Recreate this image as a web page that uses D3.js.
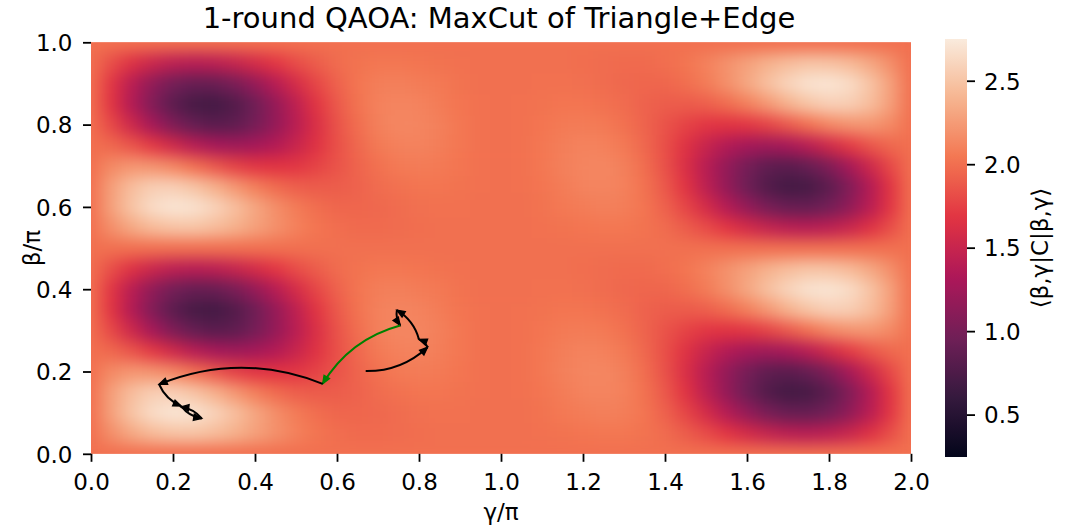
<!DOCTYPE html>
<html>
<head>
<meta charset="utf-8">
<script src="https://cdn.jsdelivr.net/npm/d3@7"></script>
<style>
  html,body{margin:0;padding:0;background:#ffffff;}
  svg text{font-family:"DejaVu Sans","Liberation Sans",sans-serif;fill:#000;}
</style>
</head>
<body>
<svg id="chart" width="1066" height="527"></svg>
<script>
// ---------------- data ----------------
const gammaValues = [0,0.05,0.1,0.15,0.2,0.25,0.3,0.35,0.4,0.45,0.5,0.55,0.6,0.65,0.7,0.75,0.8,0.85,0.9,0.95,1,
  1.05,1.1,1.15,1.2,1.25,1.3,1.35,1.4,1.45,1.5,1.55,1.6,1.65,1.7,1.75,1.8,1.85,1.9,1.95,2];
const betaValues = [0,0.05,0.1,0.15,0.2,0.25,0.3,0.35,0.4,0.45,0.5,0.55,0.6,0.65,0.7,0.75,0.8,0.85,0.9,0.95,1];

// rows: one per beta value (bottom to top), columns: gamma values (left to right)
const expectation = [
[2,2,2,2,2,2,2,2,2,2,2,2,2,2,2,2,2,2,2,2,2,2,2,2,2,2,2,2,2,2,2,2,2,2,2,2,2,2,2,2,2],
[2.00,2.18,2.33,2.44,2.49,2.50,2.45,2.38,2.28,2.19,2.10,2.03,1.99,1.97,1.97,1.98,1.99,2.00,2.00,2.00,2.00,2.00,2.01,2.02,2.03,2.04,2.04,2.02,1.98,1.90,1.81,1.69,1.58,1.48,1.41,1.39,1.42,1.51,1.65,1.82,2.00],
[2.00,2.28,2.50,2.65,2.71,2.69,2.60,2.47,2.32,2.18,2.07,1.99,1.95,1.95,1.96,1.98,2.00,2.01,2.01,2.00,2.00,2.00,2.02,2.05,2.07,2.09,2.08,2.03,1.93,1.78,1.59,1.38,1.18,1.01,0.91,0.90,0.98,1.15,1.40,1.69,2.00],
[2.00,2.27,2.46,2.56,2.57,2.50,2.38,2.23,2.09,1.98,1.91,1.89,1.90,1.93,1.98,2.01,2.03,2.03,2.02,2.01,2.00,2.01,2.03,2.07,2.11,2.12,2.10,2.02,1.88,1.68,1.43,1.18,0.95,0.78,0.69,0.71,0.84,1.06,1.36,1.68,2.00],
[2.00,2.15,2.22,2.20,2.13,2.01,1.88,1.76,1.69,1.67,1.69,1.76,1.85,1.94,2.01,2.06,2.07,2.06,2.03,2.01,2.00,2.01,2.04,2.09,2.12,2.13,2.09,1.99,1.84,1.63,1.40,1.17,0.99,0.86,0.83,0.90,1.05,1.28,1.53,1.79,2.00],
[2.00,1.96,1.86,1.71,1.55,1.40,1.29,1.24,1.27,1.36,1.50,1.66,1.83,1.96,2.06,2.10,2.11,2.08,2.04,2.01,2.00,2.01,2.04,2.08,2.11,2.10,2.06,1.96,1.83,1.66,1.50,1.36,1.27,1.24,1.29,1.40,1.55,1.71,1.86,1.96,2.00],
[2.00,1.79,1.53,1.28,1.05,0.90,0.83,0.86,0.99,1.17,1.40,1.63,1.84,1.99,2.09,2.13,2.12,2.09,2.04,2.01,2.00,2.01,2.03,2.06,2.07,2.06,2.01,1.94,1.85,1.76,1.69,1.67,1.69,1.76,1.88,2.01,2.13,2.20,2.22,2.15,2.00],
[2.00,1.68,1.36,1.06,0.84,0.71,0.69,0.78,0.95,1.18,1.43,1.68,1.88,2.02,2.10,2.12,2.11,2.07,2.03,2.01,2.00,2.01,2.02,2.03,2.03,2.01,1.98,1.93,1.90,1.89,1.91,1.98,2.09,2.23,2.38,2.50,2.57,2.56,2.46,2.27,2.00],
[2.00,1.69,1.40,1.15,0.98,0.90,0.91,1.01,1.18,1.38,1.59,1.78,1.93,2.03,2.08,2.09,2.07,2.05,2.02,2.00,2.00,2.00,2.01,2.01,2.00,1.98,1.96,1.95,1.95,1.99,2.07,2.18,2.32,2.47,2.60,2.69,2.71,2.65,2.50,2.28,2.00],
[2.00,1.82,1.65,1.51,1.42,1.39,1.41,1.48,1.58,1.69,1.81,1.90,1.98,2.02,2.04,2.04,2.03,2.02,2.01,2.00,2.00,2.00,2.00,2.00,1.99,1.98,1.97,1.97,1.99,2.03,2.10,2.19,2.28,2.38,2.45,2.50,2.49,2.44,2.33,2.18,2.00],
[2,2,2,2,2,2,2,2,2,2,2,2,2,2,2,2,2,2,2,2,2,2,2,2,2,2,2,2,2,2,2,2,2,2,2,2,2,2,2,2,2],
[2.00,2.18,2.33,2.44,2.49,2.50,2.45,2.38,2.28,2.19,2.10,2.03,1.99,1.97,1.97,1.98,1.99,2.00,2.00,2.00,2.00,2.00,2.01,2.02,2.03,2.04,2.04,2.02,1.98,1.90,1.81,1.69,1.58,1.48,1.41,1.39,1.42,1.51,1.65,1.82,2.00],
[2.00,2.28,2.50,2.65,2.71,2.69,2.60,2.47,2.32,2.18,2.07,1.99,1.95,1.95,1.96,1.98,2.00,2.01,2.01,2.00,2.00,2.00,2.02,2.05,2.07,2.09,2.08,2.03,1.93,1.78,1.59,1.38,1.18,1.01,0.91,0.90,0.98,1.15,1.40,1.69,2.00],
[2.00,2.27,2.46,2.56,2.57,2.50,2.38,2.23,2.09,1.98,1.91,1.89,1.90,1.93,1.98,2.01,2.03,2.03,2.02,2.01,2.00,2.01,2.03,2.07,2.11,2.12,2.10,2.02,1.88,1.68,1.43,1.18,0.95,0.78,0.69,0.71,0.84,1.06,1.36,1.68,2.00],
[2.00,2.15,2.22,2.20,2.13,2.01,1.88,1.76,1.69,1.67,1.69,1.76,1.85,1.94,2.01,2.06,2.07,2.06,2.03,2.01,2.00,2.01,2.04,2.09,2.12,2.13,2.09,1.99,1.84,1.63,1.40,1.17,0.99,0.86,0.83,0.90,1.05,1.28,1.53,1.79,2.00],
[2.00,1.96,1.86,1.71,1.55,1.40,1.29,1.24,1.27,1.36,1.50,1.66,1.83,1.96,2.06,2.10,2.11,2.08,2.04,2.01,2.00,2.01,2.04,2.08,2.11,2.10,2.06,1.96,1.83,1.66,1.50,1.36,1.27,1.24,1.29,1.40,1.55,1.71,1.86,1.96,2.00],
[2.00,1.79,1.53,1.28,1.05,0.90,0.83,0.86,0.99,1.17,1.40,1.63,1.84,1.99,2.09,2.13,2.12,2.09,2.04,2.01,2.00,2.01,2.03,2.06,2.07,2.06,2.01,1.94,1.85,1.76,1.69,1.67,1.69,1.76,1.88,2.01,2.13,2.20,2.22,2.15,2.00],
[2.00,1.68,1.36,1.06,0.84,0.71,0.69,0.78,0.95,1.18,1.43,1.68,1.88,2.02,2.10,2.12,2.11,2.07,2.03,2.01,2.00,2.01,2.02,2.03,2.03,2.01,1.98,1.93,1.90,1.89,1.91,1.98,2.09,2.23,2.38,2.50,2.57,2.56,2.46,2.27,2.00],
[2.00,1.69,1.40,1.15,0.98,0.90,0.91,1.01,1.18,1.38,1.59,1.78,1.93,2.03,2.08,2.09,2.07,2.05,2.02,2.00,2.00,2.00,2.01,2.01,2.00,1.98,1.96,1.95,1.95,1.99,2.07,2.18,2.32,2.47,2.60,2.69,2.71,2.65,2.50,2.28,2.00],
[2.00,1.82,1.65,1.51,1.42,1.39,1.41,1.48,1.58,1.69,1.81,1.90,1.98,2.02,2.04,2.04,2.03,2.02,2.01,2.00,2.00,2.00,2.00,2.00,1.99,1.98,1.97,1.97,1.99,2.03,2.10,2.19,2.28,2.38,2.45,2.50,2.49,2.44,2.33,2.18,2.00],
[2,2,2,2,2,2,2,2,2,2,2,2,2,2,2,2,2,2,2,2,2,2,2,2,2,2,2,2,2,2,2,2,2,2,2,2,2,2,2,2,2]
];

const xTickValues = [0,0.2,0.4,0.6,0.8,1.0,1.2,1.4,1.6,1.8,2.0];
const yTickValues = [0,0.2,0.4,0.6,0.8,1.0];
const colorbarTicks = [0.5,1.0,1.5,2.0,2.5];
const colorRange = [0.246, 2.75];
const rocketColors = ["#03051a","#35193e","#701f57","#ad1759","#e13342","#f37651","#f6b48f","#faebdd"];

// optimisation trajectory (gamma/pi, beta/pi)
const pathGamma = [0.670,0.821,0.800,0.746,0.754,0.565,0.166,0.220,0.270,0.219];
const pathBeta  = [0.201,0.259,0.278,0.349,0.312,0.170,0.169,0.116,0.086,0.114];
const stepColors = ["#000000","#000000","#000000","#000000","#008000","#000000","#000000","#000000","#000000"];

const titleText = "1-round QAOA: MaxCut of Triangle+Edge";
const xLabelText = "γ/π";
const yLabelText = "β/π";
const cbarLabelText = "⟨β,γ|C|β,γ⟩";

// ---------------- layout ----------------
const plot = {left: 91, right: 911, top: 42.3, bottom: 453.8};
const cbar = {left: 945, right: 967, top: 39, bottom: 457};
const fontSize = 23;

const svg = d3.select("#chart");
const x = d3.scaleLinear().domain([0, 2]).range([plot.left, plot.right]);
const y = d3.scaleLinear().domain([0, 1]).range([plot.bottom, plot.top]);
const stopValues = rocketColors.map((c, i) => colorRange[0] + (colorRange[1] - colorRange[0]) * i / (rocketColors.length - 1));
const color = d3.scaleLinear().domain(stopValues).range(rocketColors).interpolate(d3.interpolateRgb).clamp(true);

const defs = svg.append("defs");
defs.append("clipPath").attr("id", "plotClip").append("rect")
  .attr("x", plot.left).attr("y", plot.top)
  .attr("width", plot.right - plot.left).attr("height", plot.bottom - plot.top);
const filt = defs.append("filter").attr("id", "smooth")
  .attr("x", "-5%").attr("y", "-5%").attr("width", "110%").attr("height", "110%")
  .attr("color-interpolation-filters", "sRGB");
filt.append("feGaussianBlur").attr("stdDeviation", "8.5 7.5");

// ---------------- heatmap ----------------
const dg = gammaValues[1] - gammaValues[0];
const db = betaValues[1] - betaValues[0];
const cells = [];
expectation.forEach((row, j) => row.forEach((v, i) => cells.push({g: gammaValues[i], b: betaValues[j], v})));

const heat = svg.append("g").attr("clip-path", "url(#plotClip)");
heat.append("rect")
  .attr("x", plot.left).attr("y", plot.top)
  .attr("width", plot.right - plot.left).attr("height", plot.bottom - plot.top)
  .attr("fill", color(2));
heat.append("g").attr("filter", "url(#smooth)")
  .selectAll("rect").data(cells).join("rect")
  .attr("x", d => x(d.g - dg / 2) - 0.3)
  .attr("y", d => y(d.b + db / 2) - 0.3)
  .attr("width", x(dg) - x(0) + 0.6)
  .attr("height", y(0) - y(db) + 0.6)
  .attr("fill", d => color(d.v));

// ---------------- trajectory arrows ----------------
const arrows = svg.append("g");
for (let k = 0; k < pathGamma.length - 1; k++) {
  const x1 = x(pathGamma[k]), y1 = y(pathBeta[k]);
  const x2 = x(pathGamma[k + 1]), y2 = y(pathBeta[k + 1]);
  const dx = x2 - x1, dy = y2 - y1, rad = 0.2;
  const cx = (x1 + x2) / 2 - rad * dy;
  const cy = (y1 + y2) / 2 + rad * dx;
  const col = stepColors[k];
  arrows.append("path")
    .attr("d", `M${x1},${y1}Q${cx},${cy} ${x2},${y2}`)
    .attr("fill", "none").attr("stroke", col).attr("stroke-width", 2);
  let ux = x2 - cx, uy = y2 - cy;
  const len = Math.hypot(ux, uy) || 1; ux /= len; uy /= len;
  const L = 8, Wd = 3.2;
  const bx = x2 - L * ux, by = y2 - L * uy;
  arrows.append("path")
    .attr("d", `M${bx - Wd * uy},${by + Wd * ux}L${x2},${y2}L${bx + Wd * uy},${by - Wd * ux}Z`)
    .attr("fill", col).attr("stroke", col).attr("stroke-width", 1.3).attr("stroke-linejoin", "miter");
}

// ---------------- axes ----------------
const xAxis = svg.append("g").attr("transform", `translate(0,${plot.bottom})`)
  .call(d3.axisBottom(x).tickValues(xTickValues).tickFormat(d3.format(".1f")).tickSize(8).tickPadding(12));
const yAxis = svg.append("g").attr("transform", `translate(${plot.left},0)`)
  .call(d3.axisLeft(y).tickValues(yTickValues).tickFormat(d3.format(".1f")).tickSize(8).tickPadding(10.5));
[xAxis, yAxis].forEach(a => {
  a.select(".domain").remove();
  a.selectAll(".tick line").attr("stroke", "#000").attr("stroke-width", 1.8);
  a.selectAll(".tick text").attr("font-size", fontSize).attr("font-family", "DejaVu Sans").attr("fill", "#000");
});
yAxis.selectAll(".tick text").attr("dy", "0.36em");

// ---------------- colorbar ----------------
const cbY = d3.scaleLinear().domain(colorRange).range([cbar.bottom, cbar.top]);
const grad = defs.append("linearGradient").attr("id", "cbarGrad")
  .attr("x1", 0).attr("y1", 1).attr("x2", 0).attr("y2", 0);
grad.selectAll("stop").data(d3.range(0, 1.0001, 0.02)).join("stop")
  .attr("offset", d => d)
  .attr("stop-color", d => color(colorRange[0] + d * (colorRange[1] - colorRange[0])));
svg.append("rect")
  .attr("x", cbar.left).attr("y", cbar.top)
  .attr("width", cbar.right - cbar.left).attr("height", cbar.bottom - cbar.top)
  .attr("fill", "url(#cbarGrad)");
const cAxis = svg.append("g").attr("transform", `translate(${cbar.right},0)`)
  .call(d3.axisRight(cbY).tickValues(colorbarTicks).tickFormat(d3.format(".1f")).tickSize(8).tickPadding(9));
cAxis.select(".domain").remove();
cAxis.selectAll(".tick line").attr("stroke", "#000").attr("stroke-width", 1.8);
cAxis.selectAll(".tick text").attr("font-size", fontSize).attr("font-family", "DejaVu Sans").attr("fill", "#000").attr("dy", "0.36em");

// ---------------- labels ----------------
svg.append("text").attr("x", (plot.left + plot.right) / 2 - 2).attr("y", 27.5)
  .attr("text-anchor", "middle").attr("font-size", 29).text(titleText);
svg.append("text").attr("x", (plot.left + plot.right) / 2).attr("y", 520)
  .attr("text-anchor", "middle").attr("font-size", fontSize).text(xLabelText);
svg.append("text").attr("transform", `translate(40,${(plot.top + plot.bottom) / 2}) rotate(-90)`)
  .attr("text-anchor", "middle").attr("font-size", fontSize).text(yLabelText);
svg.append("text").attr("transform", `translate(1048,${(cbar.top + cbar.bottom) / 2}) rotate(-90)`)
  .attr("text-anchor", "middle").attr("font-size", fontSize).text(cbarLabelText);
</script>
</body>
</html>
